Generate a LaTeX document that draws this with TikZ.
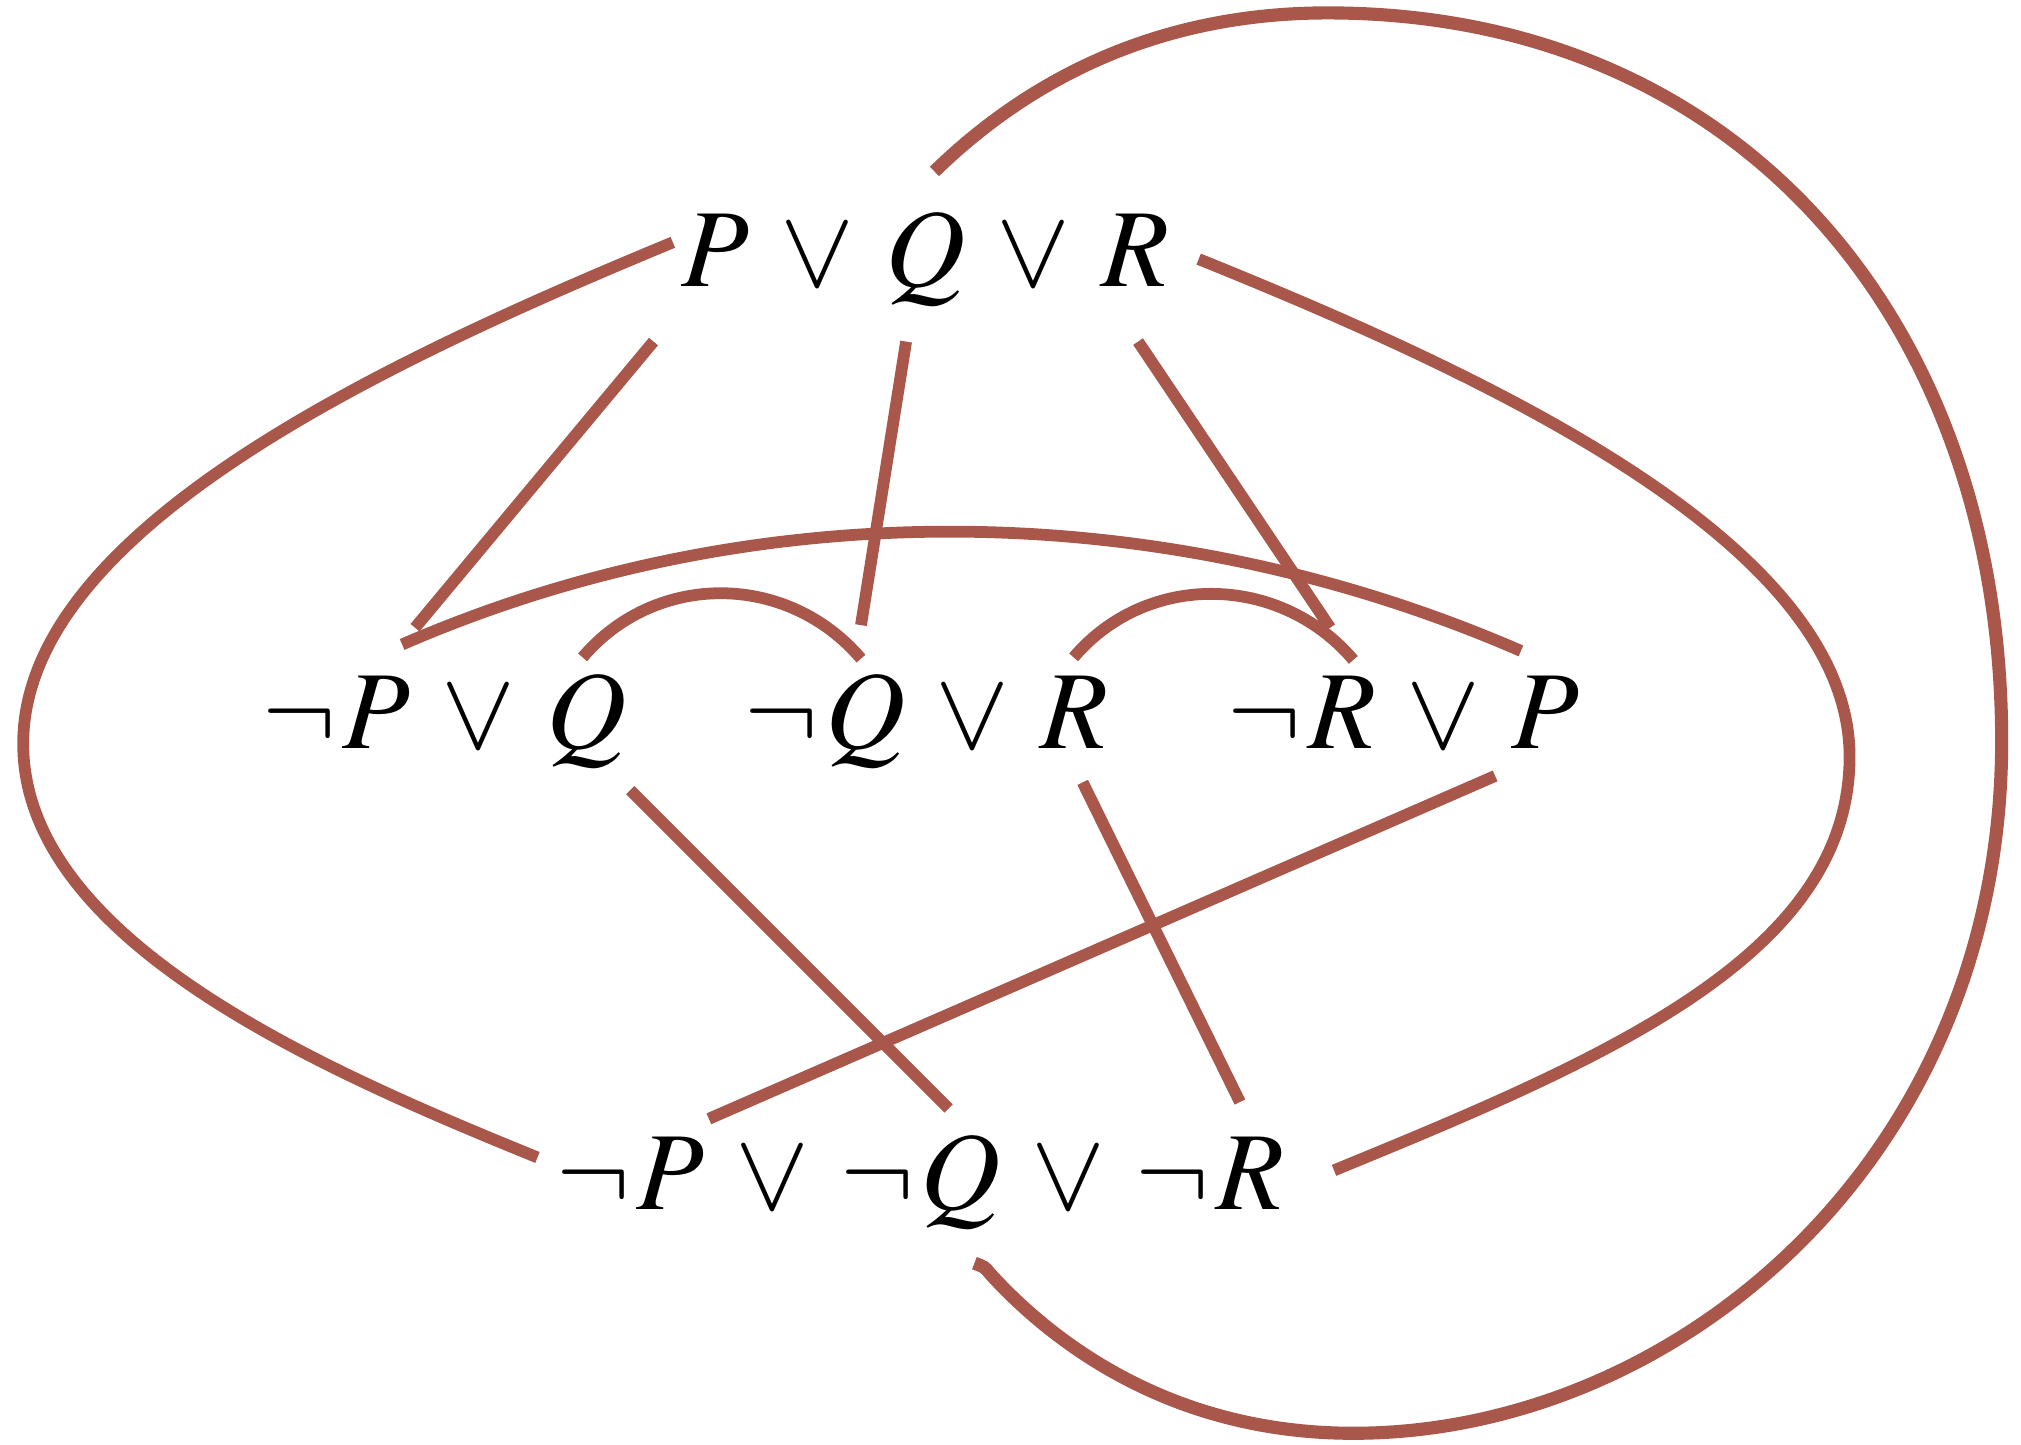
\documentclass[tikz,border=0pt]{standalone}
\usepackage{mathptmx}
\usetikzlibrary{calc}
\definecolor{linkred}{RGB}{168,87,74}
\newcommand{\nlit}[1]{\neg\mkern1mu #1}
\newcommand{\clausefont}{\fontsize{24.5}{29}\selectfont\medmuskip=5mu\relax}
\tikzset{
  clause/.style={anchor=base, inner sep=0pt, font=\clausefont},
  link/.style={draw=linkred, line width=2.6pt},
}
\begin{document}
\begin{tikzpicture}[x=0.1mm, y=-0.1mm]
\useasboundingbox (0,0) rectangle (1568,1121);
% clauses
\node[clause] (pqr) at (718,222) {$P \lor Q \lor R$};
\node[clause] (npq) at (345,581) {$\nlit{P} \lor Q$};
\node[clause] (nqr) at (719,581) {$\nlit{Q} \lor R$};
\node[clause] (nrp) at (1089,581) {$\nlit{R} \lor P$};
\node[clause] (npqr) at (714,938) {$\nlit{P} \lor \nlit{Q} \lor \nlit{R}$};
% straight links
\draw[link] ($(pqr.base)+(-211,43)$) -- ($(npq.base)+(-23,-94)$);
\draw[link] ($(pqr.base)+(-15,43)$) -- ($(nqr.base)+(-51,-96)$);
\draw[link] ($(pqr.base)+(165,43)$) -- ($(nrp.base)+(-57,-94)$);
\draw[link] ($(npq.base)+(144,32)$) -- ($(npqr.base)+(22,-78)$);
\draw[link] ($(nqr.base)+(121,26)$) -- ($(npqr.base)+(248,-83)$);
\draw[link] ($(nrp.base)+(71,21)$) -- ($(npqr.base)+(-164,-70)$);
% arcs over the middle row
\draw[link] ($(npq.base)+(-33,-81)$) .. controls +(276,-120) and +(-276,-120) .. ($(nrp.base)+(91,-76)$);
\draw[link] ($(npq.base)+(107,-71)$) .. controls +(57,-67) and +(-57,-67) .. ($(nqr.base)+(-51,-70)$);
\draw[link] ($(nqr.base)+(114,-71)$) .. controls +(57,-67) and +(-57,-67) .. ($(nrp.base)+(-39,-69)$);
% outer loops
\draw[link] ($(pqr.base)+(-196,-34)$) .. controls +(-222,92) and +(0,-167) .. (18,577)
  .. controls +(0,153) and +(-167,-68) .. ($(npqr.base)+(-297,-40)$);
\draw[link] ($(pqr.base)+(212,-21)$) .. controls +(220,89) and +(0,-167) .. (1435,587)
  .. controls +(0,153) and +(215,-88) .. ($(npqr.base)+(321,-30)$);
\draw[link, line width=2.9pt] ($(pqr.base)+(7,-89)$) .. controls +(75,-73) and +(-130,0) .. (1030,10)
  .. controls +(320,0) and +(0,-325) .. (1553,575)
  .. controls +(0,325) and +(250,0) .. (1050,1112)
  .. controls +(-140,0) and +(50,55) .. (768,988)
  .. controls +(-4,-5) .. ($(npqr.base)+(42,42)$);
\end{tikzpicture}
\end{document}
